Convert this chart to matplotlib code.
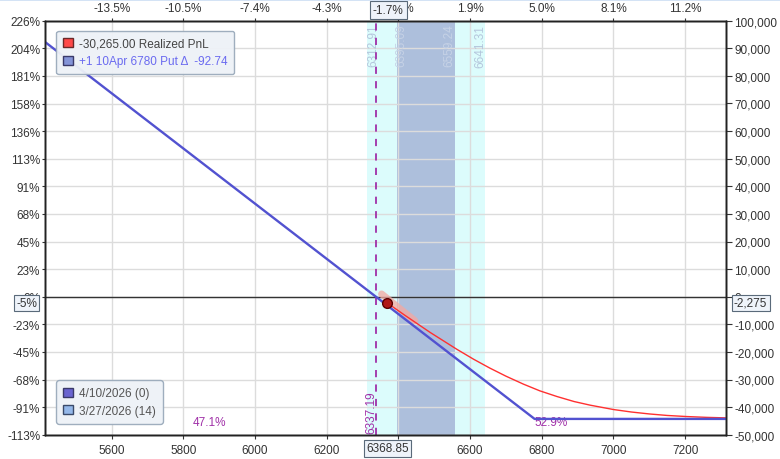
import matplotlib.pyplot as plt
from matplotlib.patches import Patch, Rectangle

plt.rcParams['font.family'] = ['Liberation Sans', 'DejaVu Sans']
plt.rcParams['font.size'] = 8.5

# axis ranges
x_lo, x_hi = 5414, 7314
y_lo, y_hi = -50000, 100000

price_ticks = [5600, 5800, 6000, 6200, 6400, 6600, 6800, 7000, 7200]
top_pct_labels = ["-13.5%", "-10.5%", "-7.4%", "-4.3%", "-1.2%", "1.9%", "5.0%", "8.1%", "11.2%"]
pnl_ticks = list(range(-50000, 100001, 10000))
left_pct_labels = ["-113%", "-91%", "-68%", "-45%", "-23%", "0%", "23%", "45%", "68%",
                   "91%", "113%", "136%", "158%", "181%", "204%", "226%"]

# expiration P&L (4/10/2026)
exp_x = [5414, 6780, 7314]
exp_y = [92300, -44281, -44281]

# T+0 P&L (3/27/2026, 14 days)
now_x = [6368.85, 6419, 6489, 6563, 6610, 6655, 6700, 6749, 6795, 6842, 6890, 6935,
         7000, 7050, 7100, 7150, 7204, 7260, 7314]
now_y = [-2275, -6820, -12980, -19050, -22670, -25860, -28790, -31690, -34130, -36150,
         -37980, -39300, -40880, -41780, -42480, -43030, -43420, -43720, -43910]

# delta tangent near spot
tan_x = [6353, 6446]
tan_y = [1000, -8700]

spot = 6368.85
spot_pnl = -2275
breakeven = 6337.19
band_outer = (6312.91, 6641.31)
band_inner = (6395.09, 6559.24)

fig = plt.figure(figsize=(7.8, 4.6), dpi=100)
fig.patches.append(Rectangle((0, 1 - 2 / 460), 1, 2 / 460, transform=fig.transFigure,
                             color='#d4e3f5', lw=0))
ax = fig.add_axes([45 / 780, 24.3 / 460, 681 / 780, 414 / 460])

ax.axvspan(band_outer[0], band_outer[1], color='#dcfcfc', zorder=0.1, lw=0)
ax.axvspan(band_inner[0], band_inner[1], color='#adbfdc', zorder=0.2, lw=0)

ax.set_axisbelow(True)
ax.grid(True, color='#dcdcdc', lw=1)

ax.axhline(0, color='#333333', lw=1, zorder=2)
ax.axvline(breakeven, color='#a030a8', lw=1.3, ls=(0, (4, 4)), zorder=2.5)

ax.plot(tan_x, tan_y, color='#f4a8a0', lw=5, alpha=0.75, solid_capstyle='round', zorder=3)
ax.plot(now_x, now_y, color='#ff3030', lw=1.0, zorder=3.5)
ax.plot(exp_x, exp_y, color='#5252d0', lw=1.7, zorder=4)
ax.plot([spot], [spot_pnl], 'o', ms=7, mfc='#b01818', mec='#5a0000', mew=1, zorder=5)

ax.set_xlim(x_lo, x_hi)
ax.set_ylim(y_lo, y_hi)
ax.set_xticks(price_ticks)
ax.set_yticks(pnl_ticks)
ax.set_yticklabels(left_pct_labels)
ax.tick_params(axis='x', length=3, pad=4, colors='#333333')
ax.tick_params(axis='y', length=2, pad=1.5, colors='#333333')

# top percent axis
axt = ax.twiny()
axt.set_xlim(x_lo, x_hi)
axt.set_xticks(price_ticks)
axt.set_xticklabels(top_pct_labels)
axt.tick_params(axis='x', length=2, pad=3, colors='#333333')

# right P&L axis
axr = ax.twinx()
axr.set_ylim(y_lo, y_hi)
axr.set_yticks(pnl_ticks)
axr.set_yticklabels([f"{v:,}" for v in pnl_ticks])
axr.tick_params(axis='y', length=4.5, pad=1.5, colors='#333333')

for a in (ax, axt, axr):
    for s in a.spines.values():
        s.set_color('#222222')
        s.set_linewidth(1)

# band labels
band_txt = '#b4c6dc'
lab_y = 1 - 3 / 414
for xv, dx, col in [(band_outer[0], 6, band_txt), (band_inner[0], 5, '#c6d2e6'),
                    (band_inner[1], -6, '#c6d2e6'), (band_outer[1], -5, band_txt)]:
    ax.annotate(f"{xv:.2f}", xy=(xv, lab_y), xycoords=('data', 'axes fraction'),
                xytext=(dx, 0), textcoords='offset pixels', rotation=90,
                ha='center', va='top', color=col, fontsize=8.5, zorder=2)

ax.annotate(f"{breakeven:.2f}", xy=(breakeven, 0.005), xycoords=('data', 'axes fraction'),
            xytext=(-5, 0), textcoords='offset pixels', rotation=90,
            ha='center', va='bottom', color='#a030a8', fontsize=8.5)

ax.text(5874, -45300, "47.1%", color='#a030a8', ha='center', va='center', fontsize=8.5)
ax.text(6780, -45300, "52.9%", color='#a030a8', ha='left', va='center', fontsize=8.5)

# crosshair value boxes
box = dict(boxstyle='square,pad=0.2', fc='#eef3fa', ec='#5a6a7a', lw=0.8)
ax.annotate(f"{spot:.2f}", xy=(spot, 0), xycoords=('data', 'axes fraction'),
            xytext=(0, -13.5), textcoords='offset pixels', ha='center', va='center',
            color='#333333', bbox=box, zorder=10, annotation_clip=False)
axt.annotate("-1.7%", xy=(spot, 1), xycoords=('data', 'axes fraction'),
             xytext=(1, 11), textcoords='offset pixels', ha='center', va='center',
             color='#333333', bbox=dict(box, boxstyle='square,pad=0.25'), zorder=10,
             annotation_clip=False)
ax.annotate("-5%", xy=(0, spot_pnl), xycoords=('axes fraction', 'data'),
            xytext=(-8, 0), textcoords='offset pixels', ha='right', va='center',
            color='#333333', bbox=box, zorder=10, annotation_clip=False)
axr.annotate("-2,275", xy=(1, spot_pnl), xycoords=('axes fraction', 'data'),
             xytext=(8, 0), textcoords='offset pixels', ha='left', va='center',
             color='#333333', bbox=box, zorder=10, annotation_clip=False)

# legends
h1 = [Patch(fc='#ff4a4a', ec='#6a2a2a'), Patch(fc='#8494d8', ec='#3a3a6a')]
leg1 = axr.legend(h1, ["-30,265.00 Realized PnL", "+1 10Apr 6780 Put \u0394  -92.74"],
                  loc='upper left', bbox_to_anchor=(0.008, 0.99), fontsize=8.5,
                  handlelength=0.8, handleheight=0.8, handletextpad=0.5,
                  labelspacing=0.45, borderpad=0.6, fancybox=True,
                  facecolor='#eef2f7', edgecolor='#9aaabb', framealpha=0.95)
leg1.get_texts()[0].set_color('#444444')
leg1.get_texts()[1].set_color('#6a6af0')
axr.add_artist(leg1)

h2 = [Patch(fc='#6a64d0', ec='#3a3a6a'), Patch(fc='#94b8ea', ec='#3a4a6a')]
leg2 = axr.legend(h2, ["4/10/2026 (0)", "3/27/2026 (14)"],
                  loc='lower left', bbox_to_anchor=(0.008, 0.012), fontsize=8.5,
                  handlelength=0.8, handleheight=0.8, handletextpad=0.5,
                  labelspacing=0.45, borderpad=0.6, fancybox=True,
                  facecolor='#eef2f7', edgecolor='#9aaabb', framealpha=0.95)
for t in leg2.get_texts():
    t.set_color('#555555')

fig.savefig('out.png', dpi=100)
